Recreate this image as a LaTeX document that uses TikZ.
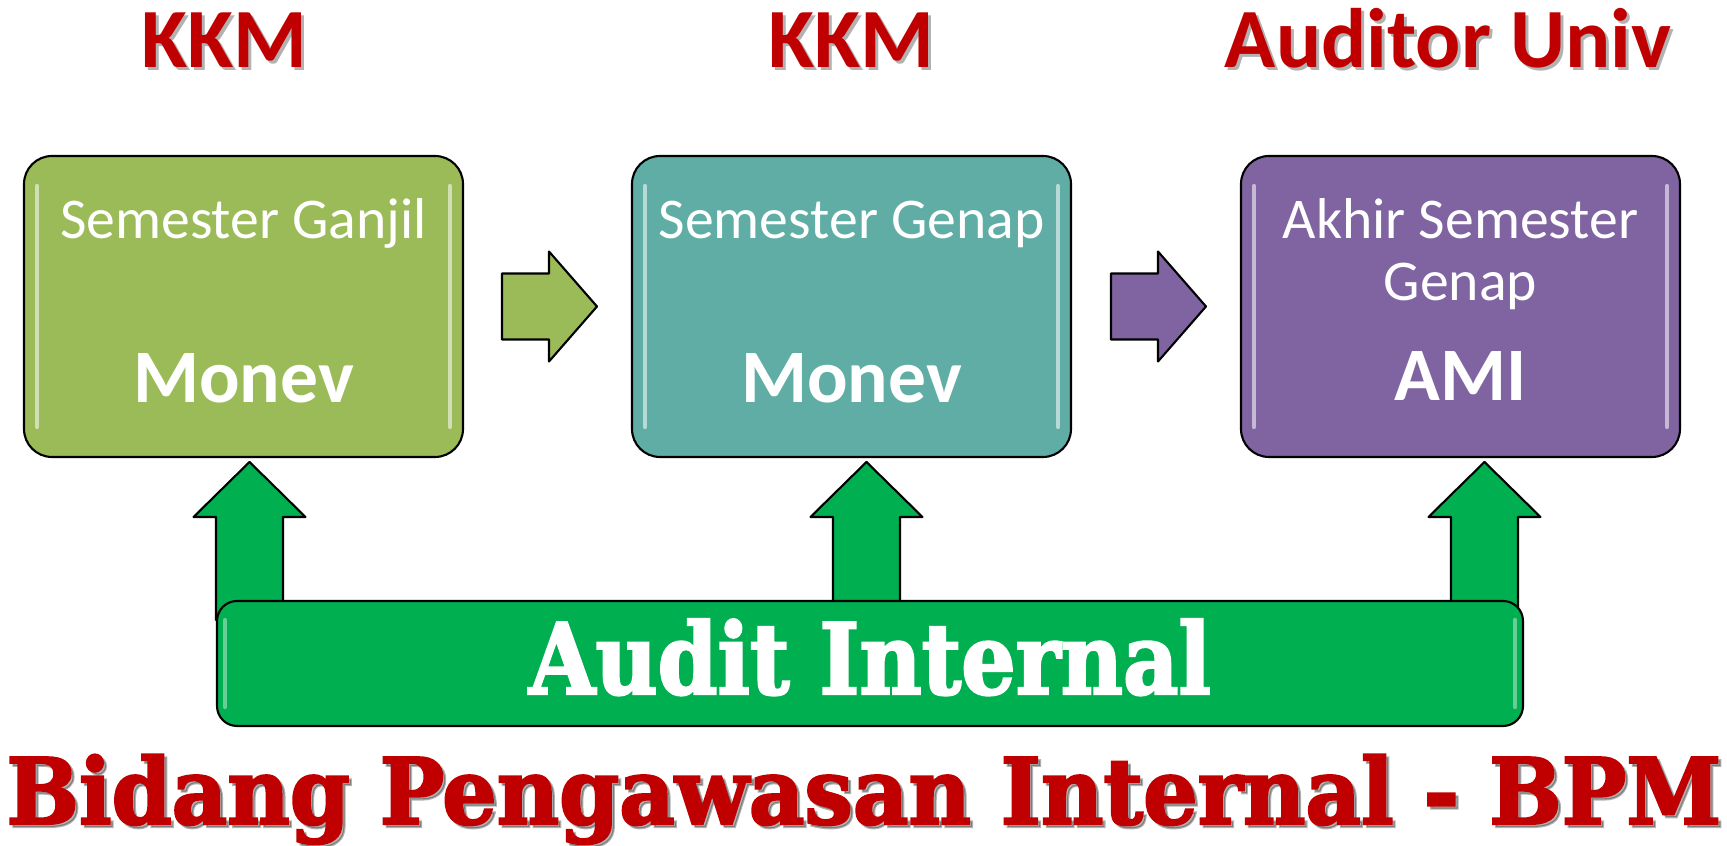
\documentclass[tikz,border=0pt]{standalone}
\usepackage{fontspec}
\setmainfont{Carlito}
\newfontface\slabfont[FakeBold=2.5]{DejaVu Serif Bold}
\usetikzlibrary{positioning,calc}

\definecolor{ganjilgreen}{HTML}{9BBB59}
\definecolor{genapteal}{HTML}{5FADA5}
\definecolor{amipurple}{HTML}{8064A2}
\definecolor{auditgreen}{HTML}{00B050}
\definecolor{titlered}{HTML}{C00000}

\tikzset{
  stagebox/.style={draw=black, line width=0.6pt, rounded corners=2.8mm,
    minimum width=43.9mm, minimum height=30.1mm, inner sep=0pt, outer sep=0pt},
  stagetxt/.style={text=white, inner sep=0pt, anchor=base,
    font=\fontsize{16.4}{19}\selectfont},
  stagebig/.style={text=white, inner sep=0pt, anchor=base,
    font=\fontsize{21.5}{25}\selectfont\bfseries},
  blockarrow/.style={draw=black, line width=0.6pt, line join=round},
  gloss/.style={white, opacity=0.55, line width=1.2pt, line cap=round},
  redtitle/.style={text=titlered, inner sep=0pt, anchor=base,
    font=\fontsize{24}{28}\selectfont\bfseries},
  redshadow/.style={text=black, opacity=0.3, inner sep=0pt, anchor=base}
}

\begin{document}
\begin{tikzpicture}[x=0.1mm, y=-0.1mm]
  \useasboundingbox (0,0) rectangle (1727,846);

  % the three stages
  \node[stagebox, fill=ganjilgreen] (ganjil) at (243.5,306.5) {};
  \node[stagebox, fill=genapteal, right=16.9mm of ganjil] (genap) {};
  \node[stagebox, fill=amipurple, right=17mm of genap] (akhir) {};

  \foreach \b in {ganjil,genap,akhir} {
    \draw[gloss] ($(\b.north west)+(13,30)$) -- ($(\b.south west)+(13,-30)$);
    \draw[gloss] ($(\b.north east)+(-13,30)$) -- ($(\b.south east)+(-13,-30)$);
  }

  \node[stagetxt] (ganjiltop) at ($(ganjil.north)+(0,83)$) {Semester Ganjil};
  \node[stagebig] (ganjilbig) at ($(ganjil.north)+(0,247)$) {Monev};
  \node[stagetxt] (genaptop) at ($(genap.north)+(0,83)$) {Semester Genap};
  \node[stagebig] (genapbig) at ($(genap.north)+(0,247)$) {Monev};
  \node[stagetxt] (akhirtop) at ($(akhir.north)+(0,83)$) {Akhir Semester};
  \node[stagetxt] (akhirmid) at ($(akhir.north)+(0,145)$) {Genap};
  \node[stagebig] (akhirbig) at ($(akhir.north)+(0,245)$) {AMI};

  % arrows between the stages
  \coordinate (tipA) at ($(genap.west)+(-35,0)$);
  \coordinate (tipB) at ($(akhir.west)+(-35,0)$);
  \draw[blockarrow, fill=ganjilgreen] (tipA) -- ++(-48,-55) -- ++(0,22) -- ++(-47,0)
    -- ++(0,66) -- ++(47,0) -- ++(0,22) -- cycle;
  \draw[blockarrow, fill=amipurple] (tipB) -- ++(-48,-55) -- ++(0,22) -- ++(-47,0)
    -- ++(0,66) -- ++(47,0) -- ++(0,22) -- cycle;

  % arrows up from the audit bar
  \coordinate (upA) at ($(ganjil.south)+(6,5)$);
  \coordinate (upB) at ($(genap.south)+(15,5)$);
  \coordinate (upC) at ($(akhir.south)+(24,5)$);
  \foreach \u in {upA,upB,upC}
    \draw[blockarrow, fill=auditgreen] (\u) -- ++(56,55) -- ++(-22.5,0) -- ++(0,103)
      -- ++(-67,0) -- ++(0,-103) -- ++(-22.5,0) -- cycle;

  \node[draw=black, line width=0.6pt, fill=auditgreen, rounded corners=2mm,
    minimum width=130.6mm, minimum height=12.5mm] (auditbar) at (870,663.5) {};
  \draw[gloss, opacity=0.4] ($(auditbar.north west)+(9,20)$) -- ($(auditbar.south west)+(9,-20)$);
  \draw[gloss, opacity=0.4] ($(auditbar.north east)+(-9,20)$) -- ($(auditbar.south east)+(-9,-20)$);
  \node[text=white, inner sep=0pt, anchor=base,
    font=\fontsize{28}{32}\selectfont\slabfont] (auditlabel) at (870,694)
    {\scalebox{0.87}[1]{Audit Internal}};

  % red headings
  \node[redshadow, font=\fontsize{24}{28}\selectfont\bfseries] at (227,71) {KKM};
  \node[redshadow, font=\fontsize{24}{28}\selectfont\bfseries] at (854,71) {KKM};
  \node[redshadow, font=\fontsize{24}{28}\selectfont\bfseries] at (1451,71) {Auditor Univ};
  \node[redtitle] (kkmA) at (224,68) {KKM};
  \node[redtitle] (kkmB) at (851,68) {KKM};
  \node[redtitle] (auditor) at (1448,68) {Auditor Univ};

  \node[redshadow, font=\fontsize{26}{30}\selectfont\slabfont] at (867,827)
    {\scalebox{0.94}[1]{Bidang Pengawasan Internal - BPM}};
  \node[redtitle, font=\fontsize{26}{30}\selectfont\slabfont] (bidang) at (864,824)
    {\scalebox{0.94}[1]{Bidang Pengawasan Internal - BPM}};
\end{tikzpicture}
\end{document}
